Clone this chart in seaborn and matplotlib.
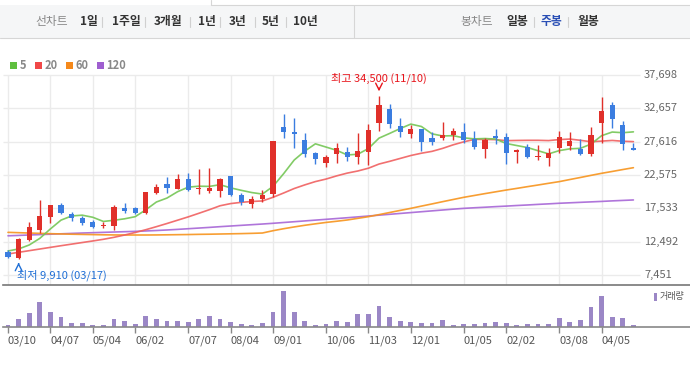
import numpy as np
import matplotlib
matplotlib.use('Agg')
import matplotlib.pyplot as plt
import seaborn as sns
from matplotlib.patches import Rectangle

# 주봉 데이터 (03/10 주부터 60주)
opens = [10890, 10070, 12750, 14260, 16270, 18040, 16680, 16030, 15510, 14860,
         14910, 17630, 17540, 16780, 19900, 21210, 20460, 21970, 20410, 20160,
         20200, 22420, 19550, 18190, 18950, 19700, 29830, 29080, 27870, 25860,
         24440, 25800, 26100, 25340, 26100, 30390, 32560, 29990, 28730, 29530,
         28130, 28220, 28620, 29030, 28020, 26510, 28470, 28280, 26100, 26760,
         25340, 25190, 26700, 27010, 26460, 25750, 30490, 33160, 30140, 26610]
highs = [11230, 12990, 15420, 18790, 18040, 18300, 16930, 16420, 15770, 15420,
         18040, 18300, 17780, 19960, 21210, 22320, 22730, 22830, 23480, 23680,
         22170, 22420, 19810, 19450, 20310, 27760, 31800, 31150, 28880, 26100,
         25600, 27370, 26810, 28970, 30240, 34500, 33310, 31150, 30140, 29530,
         29120, 30550, 29640, 30490, 29230, 28220, 29530, 28880, 26510, 27260,
         27110, 26610, 29230, 29030, 27970, 29790, 34300, 33660, 30740, 27370]
lows = [10000, 9910, 12640, 13850, 15360, 16680, 15660, 15010, 14610, 14610,
        14260, 16870, 16680, 16680, 19700, 19900, 20410, 20200, 19700, 19900,
        19290, 19450, 18040, 17630, 18540, 19200, 28130, 26700, 25340, 24280,
        23830, 24440, 24740, 24190, 24090, 29280, 29640, 28370, 28130, 26250,
        27110, 27870, 27870, 27460, 26460, 25190, 27220, 24190, 24350, 25100,
        24840, 23980, 25950, 26360, 25600, 25450, 27370, 29730, 26360, 26400]
closes = [10130, 12900, 14670, 16380, 18040, 16780, 16030, 15270, 14760, 14910,
          17690, 17130, 16870, 19960, 20810, 20660, 21970, 20310, 20660, 20660,
          21970, 19550, 18450, 18950, 19550, 27760, 29120, 28820, 25710, 25040,
          25300, 26660, 25340, 26200, 29380, 33160, 30240, 29030, 29530, 27610,
          27610, 28620, 29230, 27870, 26860, 27870, 28220, 25860, 26360, 25340,
          25450, 25860, 28280, 27720, 25750, 28620, 32250, 31000, 27220, 26400]
# 거래량 (천 주)
volumes = [70, 250, 430, 760, 460, 310, 130, 130, 70, 70,
           250, 190, 100, 340, 250, 190, 190, 160, 250, 340,
           250, 160, 100, 70, 130, 460, 1090, 460, 190, 70,
           100, 190, 160, 400, 400, 640, 310, 190, 160, 130,
           130, 220, 70, 100, 100, 130, 160, 130, 70, 100,
           100, 100, 280, 160, 220, 610, 940, 310, 280, 70]
# 이동평균선
ma5 = [11080, 11390, 11990, 12990, 14420, 15750, 16380, 16500, 16180, 15550,
       15730, 15950, 16270, 17310, 18490, 19090, 20050, 20740, 20880, 20850,
       21110, 20630, 20260, 19920, 19690, 20850, 22770, 24840, 26190, 27290,
       26800, 26310, 25610, 25710, 26580, 28150, 28860, 29600, 30270, 29910,
       28800, 28480, 28520, 28190, 28040, 28090, 28010, 27340, 27030, 26730,
       26250, 25770, 26260, 26530, 26610, 27250, 28520, 29070, 28970, 29100]
ma20 = [10630, 10880, 11130, 11380, 11630, 11880, 12120, 12360, 12600, 12850,
        13150, 13500, 13880, 14300, 14760, 15240, 15740, 16240, 16780, 17330,
        17920, 18250, 18440, 18570, 18650, 19200, 19850, 20530, 21080, 21580,
        21960, 22440, 22860, 23180, 23600, 24230, 24640, 25080, 25520, 25870,
        26150, 26600, 27140, 27590, 27960, 27960, 27920, 27770, 27800, 27820,
        27820, 27780, 27930, 28010, 27820, 27600, 27700, 27800, 27680, 27620]
ma60 = [13900, 13850, 13800, 13750, 13700, 13660, 13620, 13590, 13560, 13530,
        13510, 13500, 13500, 13500, 13510, 13530, 13550, 13570, 13600, 13620,
        13650, 13680, 13710, 13750, 13800, 14150, 14450, 14720, 14970, 15190,
        15400, 15580, 15770, 16020, 16270, 16580, 16900, 17220, 17530, 17870,
        18200, 18540, 18870, 19200, 19480, 19760, 20030, 20300, 20550, 20810,
        21060, 21320, 21570, 21890, 22200, 22520, 22830, 23110, 23400, 23680]
ma120 = [13380, 13440, 13500, 13560, 13620, 13680, 13740, 13800, 13850, 13900,
         13950, 14000, 14050, 14110, 14180, 14260, 14350, 14450, 14550, 14650,
         14760, 14860, 14960, 15060, 15160, 15270, 15390, 15510, 15630, 15750,
         15870, 15990, 16110, 16240, 16370, 16500, 16630, 16760, 16890, 17020,
         17150, 17280, 17410, 17530, 17620, 17700, 17790, 17870, 17960, 18040,
         18130, 18210, 18300, 18370, 18440, 18510, 18580, 18660, 18730, 18800]

tick_weeks = [0, 4, 8, 12, 17, 21, 25, 30, 34, 38, 43, 47, 52, 56]
tick_labels = ['03/10', '04/07', '05/04', '06/02', '07/07', '08/04', '09/01',
               '10/06', '11/03', '12/01', '01/05', '02/02', '03/08', '04/05']
price_levels = [7451, 12492, 17533, 22575, 27616, 32657, 37698]
high_week, high_price, high_date = 35, 34500, '11/10'
low_week, low_price, low_date = 1, 9910, '03/17'
ma_names = ['5', '20', '60', '120']

RED = '#e0302a'
BLUE = '#3b7de0'
MA_COLORS = ['#74c655', '#f06060', '#f7941d', '#a766d6']
LEG_COLORS = ['#5fbf3f', '#f04848', '#f5891b', '#9f5fd0']
VOL = '#9b87c6'
GRID = '#ebebeb'

sns.set_theme(style='white')
plt.rcParams['font.family'] = ['Noto Sans CJK KR', 'DejaVu Sans']

W, H = 690, 367
STEP = 10.6   # 한 주 간격(px)
X0 = 8        # 첫 봉 위치(px)
PPP = (price_levels[-1] - price_levels[0]) / 200.0


def rect(x0, y0, x1, y1):
    return [x0 / W, 1 - y1 / H, (x1 - x0) / W, (y1 - y0) / H]


def wk(px):
    return (px - X0) / STEP


fig = plt.figure(figsize=(W / 100, H / 100), dpi=100)
fig.patch.set_facecolor('white')

# 상단 메뉴 바
bg = fig.add_axes([0, 0, 1, 1])
bg.set_xlim(0, W)
bg.set_ylim(H, 0)
bg.axis('off')
bg.add_patch(Rectangle((0, 5), W, 33, facecolor='#f5f6f7', edgecolor='none'))
bg.plot([211, W], [5, 5], color='#d6d6d6', lw=0.8)
bg.plot([211, 211], [0, 5], color='#d6d6d6', lw=0.8)
bg.plot([0, W], [38, 38], color='#d6d6d6', lw=0.8)
bg.plot([354, 354], [5, 38], color='#d6d6d6', lw=0.8)

menu_left = [('선차트', 35, '#888888'), ('1일', 80, '#333333'), ('1주일', 112, '#333333'),
             ('3개월', 154, '#333333'), ('1년', 198, '#333333'), ('3년', 229, '#333333'),
             ('5년', 262, '#333333'), ('10년', 293, '#333333'),
             ('봉차트', 460, '#888888'), ('일봉', 506, '#333333'), ('주봉', 541, '#2a4fb5'),
             ('월봉', 577, '#333333')]
for txt, x, c in menu_left:
    bg.text(x, 22, txt, ha='left', va='center', fontsize=8.5, color=c,
            fontweight='normal' if c == '#888888' else 'bold')
for x in [102, 145, 190, 220, 255, 286, 534, 568]:
    bg.plot([x, x], [17, 27], color='#d0d0d0', lw=0.8)

# 이동평균 범례
for i, (name, c) in enumerate(zip(ma_names, LEG_COLORS)):
    lx = [10, 35, 66, 97][i]
    bg.add_patch(Rectangle((lx, 62), 6.5, 6.5, facecolor=c, edgecolor='none'))
    bg.text(lx + 9.5, 65.5, name, ha='left', va='center', fontsize=8,
            color='#888888', fontweight='bold')

# 거래량 범례
bg.add_patch(Rectangle((654, 293), 3, 8, facecolor=VOL, edgecolor='none'))
bg.text(660, 297, '거래량', ha='left', va='center', fontsize=6.5, color='#555555')

# 가격 차트
weeks = np.arange(len(closes))
o = np.array(opens)
c = np.array(closes)
up = c >= o
colors = np.where(up, RED, BLUE)

ax = fig.add_axes(rect(3, 62, W, 285))
ax.set_facecolor('none')
ax.set_xlim(wk(3), wk(W))
ax.set_ylim(price_levels[0] - 10 * PPP, price_levels[-1] + 13 * PPP)
ax.hlines(price_levels, wk(3), wk(640), color=GRID, lw=1, zorder=0)
ax.vlines(tick_weeks, ax.get_ylim()[0], price_levels[-1], color=GRID, lw=1, zorder=0)

for ma, col in zip([ma120, ma60, ma20, ma5], MA_COLORS[::-1]):
    sns.lineplot(x=weeks, y=ma, ax=ax, color=col, lw=1.2, alpha=0.9, zorder=2)

ax.vlines(weeks, lows, highs, colors=colors, lw=1.0, zorder=3)
body_h = np.maximum(np.abs(c - o), PPP * 1.2)
ax.bar(weeks, body_h, bottom=np.minimum(o, c), width=0.5, color=colors,
       linewidth=0, zorder=4)

for lv in price_levels:
    ax.text(wk(644), lv, f'{lv:,}', ha='left', va='center', fontsize=8, color='#666666')

ax.text(high_week, price_levels[-1] - 3 * PPP, f'최고 {high_price:,} ({high_date})',
        ha='center', va='center', fontsize=8, color='#e8141b')
ax.annotate('', xy=(high_week, high_price + 2 * PPP), xytext=(high_week, high_price + 11 * PPP),
            arrowprops=dict(arrowstyle='->', color='#e8141b', lw=1))
ax.text(wk(17), price_levels[0], f'최저 {low_price:,} ({low_date})',
        ha='left', va='center', fontsize=8, color='#1f6fd6')
ax.annotate('', xy=(low_week, low_price - 1 * PPP), xytext=(low_week, low_price - 8 * PPP),
            arrowprops=dict(arrowstyle='->', color='#1f6fd6', lw=1))

ax.set_xlabel('')
ax.set_ylabel('')
ax.set_xticks([])
ax.set_yticks([])
for s in ['top', 'left', 'right']:
    ax.spines[s].set_visible(False)
ax.spines['bottom'].set_color('#777777')
ax.spines['bottom'].set_linewidth(1.2)

# 거래량 차트
ax2 = fig.add_axes(rect(3, 288, W, 327))
ax2.set_facecolor('none')
sns.barplot(x=weeks, y=volumes, ax=ax2, color=VOL, saturation=1, width=0.47,
            native_scale=True, errorbar=None, linewidth=0)
ax2.set_xlim(wk(3), wk(W))
ax2.set_ylim(0, max(volumes) * 39 / 36)
ax2.set_xlabel('')
ax2.set_ylabel('')
ax2.set_yticks([])
ax2.set_xticks(tick_weeks, labels=tick_labels)
ax2.tick_params(axis='x', length=4, width=1, color='#888888', pad=2,
                labelsize=8, labelcolor='#555555', bottom=True)
for lbl in ax2.get_xticklabels():
    lbl.set_ha('left')
for s in ['top', 'left', 'right']:
    ax2.spines[s].set_visible(False)
ax2.spines['bottom'].set_color('#888888')
ax2.spines['bottom'].set_linewidth(1.2)

fig.savefig('out.png', dpi=100)
